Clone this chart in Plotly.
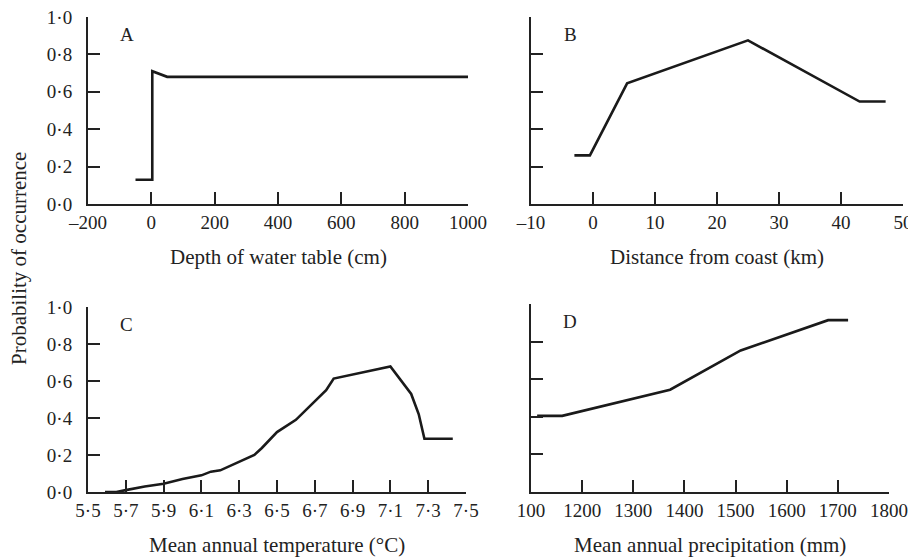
import plotly.graph_objects as go

W, H = 916, 557
OFF = 8  # the page body has an 8px margin, so the figure sits 8px in

# panel A: depth of water table
a_x = [-50, 3, 3, 50, 1000]
a_y = [0.13, 0.13, 0.71, 0.68, 0.68]

# panel B: distance from coast
b_x = [-3, -0.5, 5.5, 25, 43, 47.2]
b_y = [0.26, 0.26, 0.645, 0.875, 0.548, 0.548]

# panel C: mean annual temperature
c_x = [5.59, 5.65, 5.7, 5.8, 5.9, 6.0, 6.1, 6.15, 6.2, 6.25, 6.3, 6.38, 6.42,
       6.5, 6.6, 6.7, 6.76, 6.8, 7.1, 7.21, 7.25, 7.28, 7.43]
c_y = [0.0, 0.0, 0.01, 0.03, 0.045, 0.07, 0.09, 0.11, 0.117, 0.14, 0.162, 0.2,
       0.238, 0.324, 0.39, 0.49, 0.55, 0.613, 0.679, 0.53, 0.42, 0.288, 0.288]

# panel D: mean annual precipitation
d_x = [1112, 1161, 1372, 1510, 1681, 1720]
d_y = [0.405, 0.405, 0.544, 0.753, 0.914, 0.914]

y_vals = [0, 0.2, 0.4, 0.6, 0.8, 1.0]
y_text = ['0·0', '0·2', '0·4', '0·6', '0·8', '1·0']

a_ticks = [-200, 0, 200, 400, 600, 800, 1000]
a_text = ['–200', '0', '200', '400', '600', '800', '1000']
b_ticks = [-10, 0, 10, 20, 30, 40, 50]
b_text = ['–10', '0', '10', '20', '30', '40', '50']
c_ticks = [5.5, 5.7, 5.9, 6.1, 6.3, 6.5, 6.7, 6.9, 7.1, 7.3, 7.5]
c_text = ['5·5', '5·7', '5·9', '6·1', '6·3', '6·5', '6·7', '6·9', '7·1', '7·3', '7·5']
d_ticks = [1100, 1200, 1300, 1400, 1500, 1600, 1700, 1800]
d_text = ['100', '1200', '1300', '1400', '1500', '1600', '1700', '1800']

titles = ['Depth of water table (cm)', 'Distance from coast (km)',
          'Mean annual temperature (°C)', 'Mean annual precipitation (mm)']
letters = ['A', 'B', 'C', 'D']

INK = '#222222'
FONT = 'Liberation Serif, Times New Roman, serif'

FW, FH = W - OFF, H - OFF

# pixel boxes (left, right, top, bottom) of each panel, in screen pixels
boxes = [(88, 468, 17, 204), (531, 903, 17, 204),
         (88, 466, 307, 492), (531, 889, 304, 492)]
title_y = [257, 257, 545, 545]

def fx(px):
    return (px - OFF) / FW

def fy(py):
    return 1 - (py - OFF) / FH

fig = go.Figure()
panels = [(a_x, a_y, a_ticks, a_text, [-200, 1000]),
          (b_x, b_y, b_ticks, b_text, [-10, 50]),
          (c_x, c_y, c_ticks, c_text, [5.5, 7.5]),
          (d_x, d_y, d_ticks, d_text, [1100, 1800])]

layout = {}
annotations = []
for i, (xs, ys, tv, tt, rng) in enumerate(panels):
    n = '' if i == 0 else str(i + 1)
    l, r, t, b = boxes[i]
    fig.add_trace(go.Scatter(x=xs, y=ys, mode='lines', xaxis='x' + n, yaxis='y' + n,
                             line=dict(color='#1a1a1a', width=2.6), showlegend=False,
                             cliponaxis=False))
    layout['xaxis' + n] = dict(domain=[fx(l), fx(r)], range=rng, anchor='y' + n,
                               tickvals=tv, ticktext=tt, ticks='inside', ticklen=12,
                               tickwidth=1.5, tickcolor=INK, showline=True, linecolor=INK,
                               linewidth=2, showgrid=False, zeroline=False, automargin=False,
                               ticklabelstandoff=0, ticklabeloverflow='allow',
                               tickfont=dict(family=FONT, size=19, color=INK))
    layout['yaxis' + n] = dict(domain=[fy(b), fy(t)], range=[0, 1], anchor='x' + n,
                               tickvals=y_vals, ticktext=y_text if i in (0, 2) else [''] * 6,
                               ticks='inside', ticklen=12, tickwidth=1.5, tickcolor=INK,
                               showline=True, linecolor=INK, linewidth=2, showgrid=False,
                               zeroline=False, ticklabelstandoff=10, automargin=False,
                               ticklabeloverflow='allow',
                               tickfont=dict(family=FONT, size=19, color=INK))
    annotations.append(dict(text=titles[i], x=fx((l + r) / 2), y=fy(title_y[i]),
                            xref='paper', yref='paper', showarrow=False,
                            xanchor='center', yanchor='middle',
                            font=dict(family=FONT, size=21, color=INK)))
    annotations.append(dict(text=letters[i], x=fx(l + 39), y=fy(t + 17),
                            xref='paper', yref='paper', showarrow=False,
                            xanchor='center', yanchor='middle',
                            font=dict(family=FONT, size=19, color=INK)))

annotations.append(dict(text='Probability of occurrence', x=fx(19), y=fy(259),
                        xref='paper', yref='paper', showarrow=False, textangle=-90,
                        xanchor='center', yanchor='middle',
                        font=dict(family=FONT, size=21, color=INK)))

fig.update_layout(width=FW, height=FH, margin=dict(l=0, r=0, t=0, b=0),
                  paper_bgcolor='white', plot_bgcolor='white',
                  annotations=annotations, **layout)

fig.write_html('out.html')
